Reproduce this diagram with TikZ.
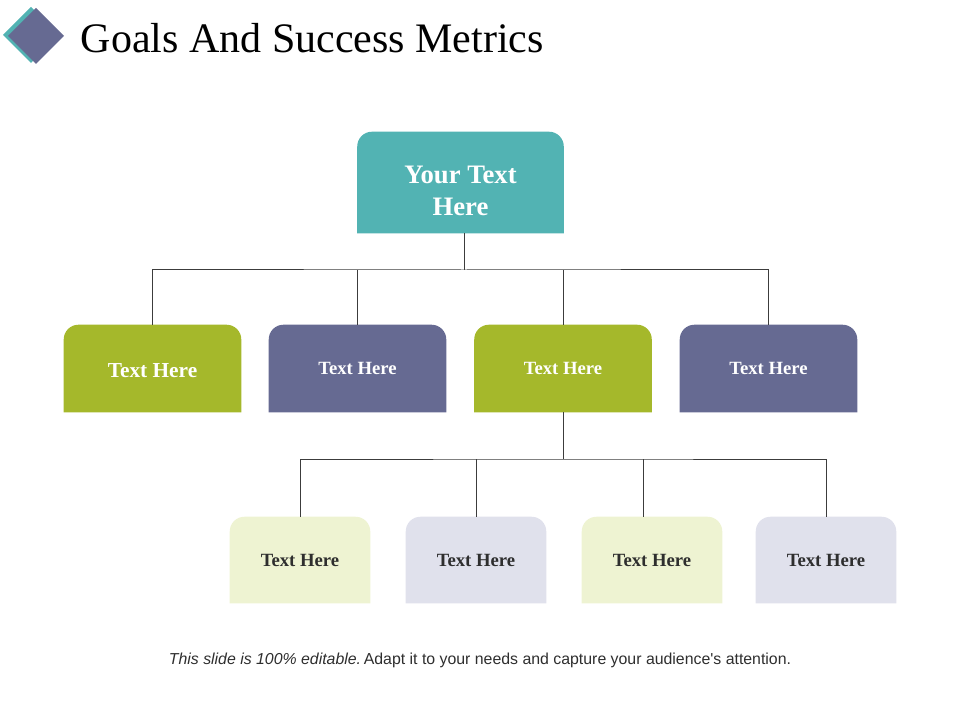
\documentclass[tikz,border=0pt]{standalone}
\usepackage{fontspec}
\setmainfont{Liberation Serif}
\setsansfont{Liberation Sans}
\usetikzlibrary{backgrounds}
\definecolor{tealbox}{HTML}{52B3B3}
\definecolor{greenbox}{HTML}{A5B82B}
\definecolor{purplebox}{HTML}{666A92}
\definecolor{lightgreen}{HTML}{EEF3D2}
\definecolor{lightpurple}{HTML}{E0E1EC}
\definecolor{darktext}{HTML}{2E2E2E}
\definecolor{linegray}{HTML}{3C3C3C}
\tikzset{topbox/.style={minimum width=154.5pt,minimum height=75.75pt,text=white,align=center,font=\bfseries\fontsize{20}{24}\selectfont},
  midbox/.style={minimum width=132.75pt,minimum height=65.25pt,text=white,font=\bfseries\fontsize{14}{16}\selectfont},
  lowbox/.style={minimum width=105pt,minimum height=64.5pt,text=darktext,font=\bfseries\fontsize{14}{16}\selectfont},
  link/.style={draw=linegray,line width=0.75pt}}
% #1 = shift that undoes a moved label
\newcommand{\tabfill}[3][0pt]{\fill[#3] ([yshift=#1]#2.south west) [rounded corners=11pt] -- ([yshift=#1]#2.north west) -- ([yshift=#1]#2.north east) -- ([yshift=#1]#2.east) [sharp corners] -- ([yshift=#1]#2.south east) -- cycle;}

\begin{document}
\begin{tikzpicture}[x=0.75pt,y=-0.75pt]
\useasboundingbox (0,0) rectangle (960,720);
% title
\fill[tealbox] (31,7)--(59,35)--(31,63)--(3,35)--cycle;
\fill[purplebox] (36,8)--(64,36)--(36,64)--(8,36)--cycle;
\node[anchor=base west,font=\fontsize{31.5}{38}\selectfont] (title) at (76,53) {Goals And Success Metrics};
% boxes
\node[topbox,yshift=-6.5pt] (top) at (460.5,182.5) {Your Text\\Here};
\node[midbox,font=\bfseries\fontsize{16}{18}\selectfont,yshift=-1.5pt] (m1) at (152.5,368.5) {Text Here};
\node[midbox] (m2) at (357.5,368.5) {Text Here};
\node[midbox] (m3) at (563,368.5) {Text Here};
\node[midbox] (m4) at (768.5,368.5) {Text Here};
\node[lowbox] (l1) at (300,560) {Text Here};
\node[lowbox] (l2) at (476,560) {Text Here};
\node[lowbox] (l3) at (652,560) {Text Here};
\node[lowbox] (l4) at (826,560) {Text Here};
\begin{scope}[on background layer]
\tabfill[6.5pt]{top}{tealbox}
\tabfill[1.5pt]{m1}{greenbox}
\tabfill{m2}{purplebox}
\tabfill{m3}{greenbox}
\tabfill{m4}{purplebox}
\tabfill{l1}{lightgreen}
\tabfill{l2}{lightpurple}
\tabfill{l3}{lightgreen}
\tabfill{l4}{lightpurple}
\end{scope}
% connectors
\coordinate (bus1) at (464,270);
\coordinate (bus2) at (563,459);
\draw[link] (bus1 |- 0,233) -- (bus1);
\draw[link] (m1.north |- 0,325) |- (bus1) -| (m4.north);
\draw[link] (m2.north) -- (m2.north |- bus1);
\draw[link] (m3.north) -- (m3.north |- bus1);
\draw[link] (m3.south) -- (bus2);
\draw[link] (l1.north) |- (bus2) -| (l4.north);
\draw[link] (l2.north) -- (l2.north |- bus2);
\draw[link] ([xshift=-6.75pt]l3.north) -- ([xshift=-6.75pt]l3.north |- bus2);
% footer
\node[font=\sffamily\fontsize{11.9}{14}\selectfont,text=darktext] (foot) at (480,660) {\textit{This slide is 100\% editable.}\,Adapt it to your needs and capture your audience\textquotesingle s attention.};
\end{tikzpicture}
\end{document}
